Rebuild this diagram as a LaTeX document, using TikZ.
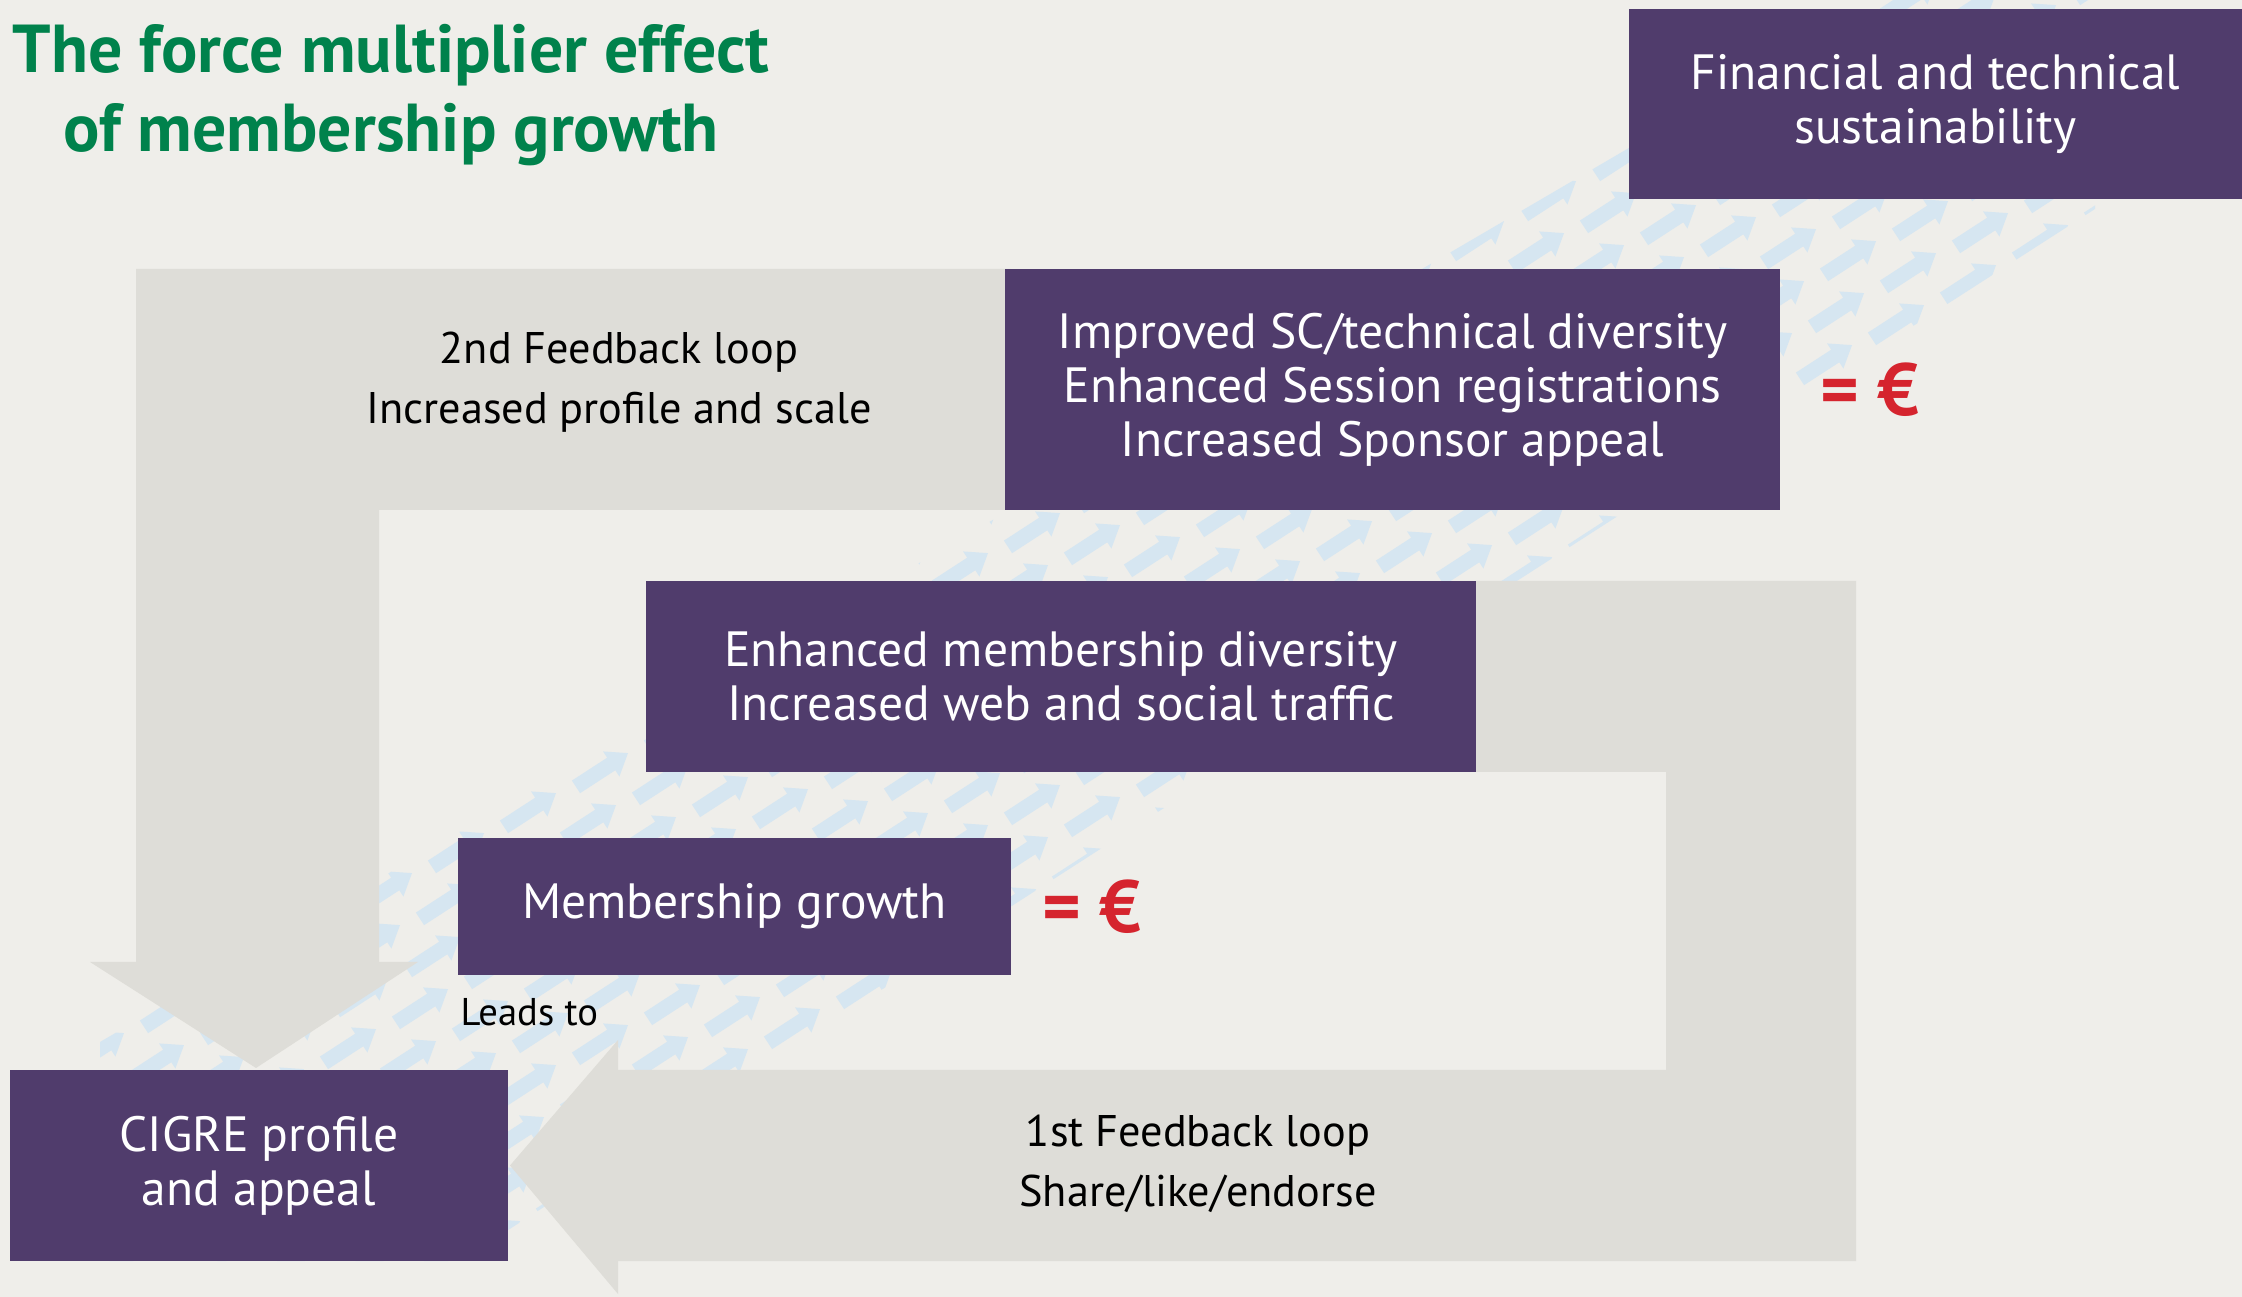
\documentclass[tikz,border=0pt]{standalone}
\usepackage{fontspec}
\setmainfont{PT Sans}
\usepackage{tikz}
\usetikzlibrary{positioning}
\usepackage{xcolor}
\definecolor{paper}{RGB}{239,238,234}
\definecolor{loopgray}{RGB}{222,221,216}
\definecolor{boxpurple}{RGB}{80,60,108}
\definecolor{titlegreen}{RGB}{0,130,76}
\definecolor{eurored}{RGB}{213,36,46}
\definecolor{flowblue}{RGB}{214,230,241}
\tikzstyle{box}=[fill=boxpurple, text=white, align=center, inner sep=0pt, font=\fontsize{14.1}{15.4}\selectfont]
\tikzstyle{looptext}=[align=center, inner sep=0pt, font=\fontsize{12.6}{17}\selectfont]
\tikzstyle{euro}=[text=eurored, inner sep=0pt, font=\fontsize{21}{21}\selectfont\bfseries]
\tikzstyle{title}=[text=titlegreen, align=center, inner sep=0pt, font=\fontsize{19.3}{22.3}\selectfont\bfseries]
\newcommand{\flowarrow}[2]{
 \fill[flowblue, shift={(#1,#2)}, rotate=33] (-.31,-.075) -- (.11,-.075) -- (.11,-.15) -- (.31,0) -- (.11,.15) -- (.11,.075) -- (-.31,.075) -- cycle;
}

\begin{document}
\begin{tikzpicture}
 \fill[paper] (0,0) rectangle (22.42,-12.97);
 \useasboundingbox (0,0) rectangle (22.42,-12.97);
%
 \begin{scope}
  \clip (1.00,-10.42) -- (18.82,0) -- (20.95,0) -- (20.95,-2.09) -- (4.60,-12.61) -- (1.00,-12.61) -- cycle;
  \foreach \i in {-3,...,10}{
   \foreach \j in {-20,...,18}{
    \flowarrow{{10.34+0.6*\i+0.72*\j}}{{-5.3-0.12*\i+0.4*\j}}
   }
  }
 \end{scope}
%
 % 2nd loop
 \fill[loopgray] (1.36,-2.69) -- (10.10,-2.69) -- (10.10,-5.10) -- (3.79,-5.10) -- (3.79,-9.62)
  -- (4.18,-9.62) -- (2.56,-10.68) -- (0.90,-9.62) -- (1.36,-9.62) -- cycle;
 % 1st loop
 \fill[loopgray] (14.60,-5.81) -- (18.56,-5.81) -- (18.56,-12.61) -- (6.18,-12.61) -- (6.18,-12.94)
  -- (5.10,-11.655) -- (6.18,-10.40) -- (6.18,-10.70) -- (16.66,-10.70) -- (16.66,-7.72) -- (14.60,-7.72) -- cycle;
%
 \node[title] (title) at (3.91,-0.95) {The force multiplier effect\\of membership growth};
%
 \node[box, minimum width=6.13cm, minimum height=1.90cm] (fin) at (19.355,-1.04) {Financial and technical\\sustainability};
 \node[box, minimum width=7.75cm, minimum height=2.41cm] (improved) at (13.925,-3.895) {Improved SC/technical diversity\\Enhanced Session registrations\\Increased Sponsor appeal};
 \node[box, minimum width=8.30cm, minimum height=1.91cm] (enhanced) at (10.61,-6.765) {Enhanced membership diversity\\Increased web and social traffic};
 \node[box, minimum width=5.53cm, minimum height=1.37cm] (growth) at (7.345,-9.065) {Membership growth};
 \node[box, minimum width=4.98cm, minimum height=1.91cm] (cigre) at (2.59,-11.655) {CIGRE profile\\and appeal};
%
 \node[euro, right=0.39cm of improved] (eurotop) {= €};
 \node[euro, right=0.30cm of growth] (eurolow) {= €};
%
 \node[looptext] (looptwo) at (6.19,-3.82) {2nd Feedback loop\\Increased profile and scale};
 \node[looptext] (loopone) at (11.98,-11.64) {1st Feedback loop\\Share/like/endorse};
 \node[anchor=base west, inner sep=0pt, font=\fontsize{11}{12}\selectfont] (leads) at (4.60,-10.26) {Leads to};
\end{tikzpicture}
\end{document}
